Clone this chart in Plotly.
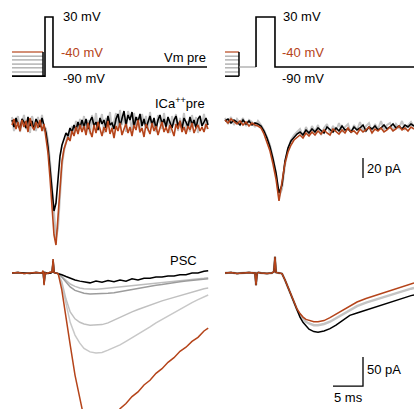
import numpy as np
import plotly.graph_objects as go

# ---------------- geometry of the figure (pixels) ----------------
W, H = 414, 409
COLS = {"L": (0, 214, 12), "R": (214, 414, 225)}   # px start, px end, px of t=0
PX_PER_MS = 6.0
ROWS = {  # py_top, py_bottom, py_of_zero, value_at_zero, px_per_unit
    "V": (0, 95, 67, -90.0, 50 / 120),
    "CA": (95, 253, 123, 0.0, 1.0),
    "PSC": (253, 409, 273, 0.0, 0.58),
}

ORANGE = "#b5441a"
FONT = "Liberation Sans, Arial, sans-serif"

# ---------------- data ----------------
# schematic voltage protocol (mV-like display units)
V_STEP_LEVELS = [-54, -64, -73, -83, -92, -102, -112]   # orange ... black
V_STEP_COLORS = [ORANGE, "#a0a0a0", "#a0a0a0", "#a0a0a0", "#a0a0a0", "#a0a0a0", "black"]
V_PULSE = 30
V_HOLD = -90
V_L_STEP_END, V_L_PULSE_ON, V_L_PULSE_OFF, V_L_END = 5.17, 5.5, 6.83, 32.5
V_R_STEP_END, V_R_PULSE_ON, V_R_PULSE_OFF, V_R_END = 2.33, 5.17, 8.33, 31.5

# presynaptic Ca current, left (pA), sampled every 1/3 ms
CA_L_DT = 1 / 3
CA_L_GRAY = [6, -8, 2, 7, -9, -1, 8, -6, 3, -10, 7, 0, -8, 6, -4, 8, -7,
             -6, -18, -38, -62, -95, -115, -105, -70, -42, -28, -18, -10, -15, -3, -11, 2, -8, 4, -6,
             7, -9, 3, -11, 8, -4, 10, -7, 2, 9, -10, 5, -3, 11, -8, 1, 10, -6, 13, -2, 8, -9, 12, 4,
             -7, 10, -3, 6, -10, 9, -1, 7, -8, 11, -4, 3, -9, 8, 0, -6, 10, -5, 4, -10, 7, -2, 9, -8,
             5, -4, 10, -7, 2, -9, 8, -3, 6, -10, 4, -1, 9, -6, 3]
CA_L_BLACK = [3, -4, 5, -2, -6, 4, 1, -5, 6, -3, 2, -7, 4, 0, -4, 5, -2,
              -10, -24, -45, -68, -88, -80, -52, -33, -22, -16, -10, -13, -5, -9, -2, -7, 1, -5, 3,
              -4, 4, -6, 2, 6, -3, 1, -7, 5, -1, 3, -5, 7, -2, 0, -6, 4, 9, -3, 5, 12, -2, 8, 3,
              11, -4, 6, 1, 9, -3, 4, -5, 2, 7, -2, 5, -6, 3, 8, -1, 4, -4, 6, 0, -5, 3, 7, -3,
              2, -6, 5, 1, -4, 6, -2, 3, -5, 4, 7, -3, 1, 5, -2]
CA_L_ORANGE = [-2, 4, -6, 1, -8, 3, -4, 2, -9, 5, -3, -7, 1, -5, 3, -8, -1,
               -14, -30, -55, -85, -112, -122, -95, -60, -38, -26, -20, -14, -18, -8, -13, -4, -11, -2, -9,
               -3, -12, 0, -8, -14, -2, -10, 1, -7, -13, -4, -9, 2, -11, -5, -15, -3, -8, 0, -12, -6, -1,
               -10, -4, -13, -2, -7, 3, -9, -5, -14, -1, -6, -11, 0, -8, -3, -12, -5, 1, -9, -4, -10,
               -2, -7, -13, -1, -6, 2, -9, -4, -11, -3, -7, 0, -10, -5, -2, -8, -4, -9, -1, -6]

# presynaptic Ca current, right (pA), sampled every 0.5 ms
CA_R_DT = 0.5
CA_R_GRAY = [5, -1, 6, -2, 4, 0, 5, -3, 3, 1, -4, 2,
             -2, -7, -14, -22, -35, -50, -74, -66, -42, -26, -17, -12, -9,
             -6, -13, -4, -11, -3, -9, -2, -12, -5, -1, -10, -3, -8, 0, -9, -4, -1, -10, -2, -7,
             1, -8, -3, 0, -9, -1, -6, 2, -7, -2, 0, -8, -1, -5, 2, -6, -3, 1, -4]
CA_R_BLACK = [2, 4, 0, 3, 1, -2, 3, -1, 2, -2, 0, -1,
              -3, -8, -15, -24, -36, -50, -70, -62, -38, -25, -18, -14, -11,
              -9, -12, -7, -10, -6, -9, -5, -8, -10, -4, -7, -9, -5, -8, -3, -7, -6, -9, -4, -7,
              -5, -2, -8, -4, -6, -3, -7, -5, -2, -6, -4, -1, -5, -3, -6, -2, -4, -1, -3]
CA_R_ORANGE = [3, 0, 4, 1, -1, 2, -2, 1, -3, 0, -2, -3,
               -5, -11, -19, -28, -41, -56, -78, -58, -40, -29, -22, -17, -14,
               -12, -15, -10, -13, -9, -12, -8, -11, -7, -10, -12, -6, -9, -11, -7, -10, -5, -9, -8,
               -11, -6, -9, -7, -4, -10, -6, -8, -5, -9, -7, -4, -8, -6, -3, -7, -5, -8, -4, -6]

# postsynaptic currents, left (pA)
PSC_L_T = [0, 1, 2, 3, 4, 5, 5.2, 5.35, 5.5, 5.7, 6, 6.5, 6.7, 6.85, 7.0, 7.3, 7.7, 8.3, 9, 9.7,
           10.5, 11.3, 12, 13, 14, 15, 16, 17, 18, 19, 20, 21, 22, 23, 24, 25, 26, 27, 28, 29,
           30, 31, 32, 32.7]
_PRE_L = [0, 1, -1, 0, 1, 0, 3, -20, 1, -1, 0, 1, 2, 24, 1, 0, -1]
PSC_L_G1 = _PRE_L + [-6, -13, -19, -23, -26, -27, -28, -28, -27, -26, -25, -24, -23, -22, -20, -19,
                     -18, -17, -16, -15, -14, -13, -12, -11, -10, -9, -8]
PSC_L_G2 = _PRE_L + [-7, -16, -24, -30, -33, -35, -36, -36, -36, -35, -34, -32, -31, -29, -27, -25,
                     -23, -21, -20, -18, -17, -15, -14, -13, -12, -11, -10]
PSC_L_G3 = _PRE_L + [-15, -45, -67, -79, -85, -88, -90, -90, -89, -86, -81, -76, -72, -67, -63, -59,
                     -55, -51, -48, -45, -42, -38, -35, -32, -29, -27, -26]
PSC_L_G4 = _PRE_L + [-20, -55, -85, -107, -121, -130, -136, -138, -137, -133, -129, -124, -118, -112,
                     -106, -99, -93, -86, -80, -74, -69, -62, -56, -51, -46, -41, -38]
PSC_L_BLACK = [0, 1, 0, -1, 1, 0, 3, -18, 1, 0, -1, 0, 2, 20, 1, 0, -1,
               -3, -6, -9, -12, -14, -15, -17, -14, -16, -13, -15, -12, -14, -10, -12, -9, -9, -7, -7,
               -5, -5, -3, -3, 0, 0, 3, 4]
PSC_L_ORANGE = [0, 1, -1, 0, 1, 0, 4, -21, 1, -1, 0, 1, 2, 24, 1, 0, -1,
                -29, -81, -124, -176, -219, -250, -278, -290, -292, -285, -262, -234, -225, -213, -205,
                -193, -185, -173, -165, -154, -146, -135, -128, -118, -111, -100, -95]

# postsynaptic currents, right (pA)
PSC_R_T = [0, 1, 2, 3, 4, 4.8, 5.0, 5.17, 5.35, 5.6, 6, 7, 7.8, 8.15, 8.33, 8.5, 8.8, 9.5, 10, 10.5,
           11, 11.5, 12, 12.5, 13, 13.5, 14, 14.8, 15.5, 16.5, 17.5, 18.5, 19.5, 20.8, 22, 23.5,
           25, 26.5, 28, 29.5, 31, 31.5]
_PRE_R = [0, 1, -1, 0, 1, 0, 0, -21, 0, 1, 0, -1, 0, 2, 28, 1, 0, -1]
PSC_R_GRAY = _PRE_R + [-12, -25, -38, -51, -63, -72, -79, -84, -87, -90, -90, -88, -84, -78, -71, -63,
                       -57, -51, -46, -41, -36, -31, -27, -26]
PSC_R_BLACK = _PRE_R + [-12, -25, -39, -52, -65, -76, -85, -92, -97, -101, -102, -100, -96, -90, -82,
                        -73, -69, -64, -59, -53, -48, -44, -39, -38]
PSC_R_ORANGE = _PRE_R + [-12, -25, -38, -50, -62, -70, -76, -80, -82, -84, -84, -82, -77, -71, -64,
                         -56, -50, -44, -39, -33, -28, -23, -18, -17]

# scale bars
SCALE_MS = 5
SCALE_PSC_PA = 50
SCALE_CA_PA = 20
SCALE_X_R = 23.0          # ms position (right column) of vertical bars
SCALE_CA_TOP = -35.0
SCALE_PSC_TOP = -145.0

# ---------------- build figure ----------------
fig = go.Figure()
layout = {}
panel_ids = {("V", "L"): 1, ("V", "R"): 2, ("CA", "L"): 3, ("CA", "R"): 4, ("PSC", "L"): 5, ("PSC", "R"): 6}
for (row, col), k in panel_ids.items():
    px0, px1, pxt0 = COLS[col]
    pyt, pyb, pyz, vz, ppu = ROWS[row]
    sfx = "" if k == 1 else str(k)
    layout["xaxis" + sfx] = dict(domain=[px0 / W, px1 / W],
                                 range=[(px0 - pxt0) / PX_PER_MS, (px1 - pxt0) / PX_PER_MS],
                                 visible=False, anchor="y" + sfx, fixedrange=True)
    layout["yaxis" + sfx] = dict(domain=[1 - pyb / H, 1 - pyt / H],
                                 range=[vz + (pyz - pyb) / ppu, vz + (pyz - pyt) / ppu],
                                 visible=False, anchor="x" + sfx, fixedrange=True)


def ax(row, col):
    k = panel_ids[(row, col)]
    s = "" if k == 1 else str(k)
    return dict(xaxis="x" + s, yaxis="y" + s)


def line(x, y, color, width, row, col):
    fig.add_trace(go.Scatter(x=x, y=y, mode="lines", line=dict(color=color, width=width),
                             hoverinfo="skip", showlegend=False, **ax(row, col)))


# voltage protocol, left
for lvl, c in zip(V_STEP_LEVELS[:-1][::-1], V_STEP_COLORS[:-1][::-1]):
    line([0, V_L_STEP_END], [lvl, lvl], c, 1.2, "V", "L")
line([V_L_STEP_END, V_L_STEP_END], [V_STEP_LEVELS[0], V_STEP_LEVELS[-1]], "black", 1.5, "V", "L")
line([0, V_L_PULSE_ON, V_L_PULSE_ON, V_L_PULSE_OFF, V_L_PULSE_OFF, V_L_END],
     [V_STEP_LEVELS[-1], V_STEP_LEVELS[-1], V_PULSE, V_PULSE, V_HOLD, V_HOLD], "black", 1.6, "V", "L")

# voltage protocol, right
for lvl, c in zip(V_STEP_LEVELS[:-1][::-1], V_STEP_COLORS[:-1][::-1]):
    line([0, V_R_STEP_END], [lvl, lvl], c, 1.2, "V", "R")
line([V_R_STEP_END, V_R_STEP_END], [V_STEP_LEVELS[0], V_STEP_LEVELS[-1]], "black", 1.5, "V", "R")
line([0, V_R_STEP_END], [V_STEP_LEVELS[-1], V_STEP_LEVELS[-1]], "black", 1.5, "V", "R")
line([V_R_STEP_END, V_R_PULSE_ON], [V_HOLD, V_HOLD], "#a0a0a0", 1.2, "V", "R")
line([V_R_PULSE_ON, V_R_PULSE_ON, V_R_PULSE_OFF, V_R_PULSE_OFF, V_R_END],
     [V_HOLD, V_PULSE, V_PULSE, V_HOLD, V_HOLD], "black", 1.6, "V", "R")

# Ca currents
line(np.arange(len(CA_L_GRAY)) * CA_L_DT, CA_L_GRAY, "#c4c4c4", 2.0, "CA", "L")
line(np.arange(len(CA_L_BLACK)) * CA_L_DT, CA_L_BLACK, "black", 1.6, "CA", "L")
line(np.arange(len(CA_L_ORANGE)) * CA_L_DT, CA_L_ORANGE, ORANGE, 1.6, "CA", "L")
line(np.arange(len(CA_R_GRAY)) * CA_R_DT, CA_R_GRAY, "#c4c4c4", 2.0, "CA", "R")
line(np.arange(len(CA_R_BLACK)) * CA_R_DT, CA_R_BLACK, "black", 1.6, "CA", "R")
line(np.arange(len(CA_R_ORANGE)) * CA_R_DT, CA_R_ORANGE, ORANGE, 1.6, "CA", "R")

# PSCs
line(PSC_L_T, PSC_L_G4, "#c8c8c8", 1.5, "PSC", "L")
line(PSC_L_T, PSC_L_G3, "#c0c0c0", 1.5, "PSC", "L")
line(PSC_L_T, PSC_L_G1, "#bdbdbd", 1.5, "PSC", "L")
line(PSC_L_T, PSC_L_G2, "#9c9c9c", 1.5, "PSC", "L")
line(PSC_L_T, PSC_L_BLACK, "black", 1.5, "PSC", "L")
line(PSC_L_T, PSC_L_ORANGE, ORANGE, 1.5, "PSC", "L")
line(PSC_R_T, PSC_R_GRAY, "#c4c4c4", 2.5, "PSC", "R")
line(PSC_R_T, PSC_R_BLACK, "black", 1.5, "PSC", "R")
line(PSC_R_T, PSC_R_ORANGE, ORANGE, 1.5, "PSC", "R")

# scale bars
line([SCALE_X_R, SCALE_X_R], [SCALE_CA_TOP, SCALE_CA_TOP - SCALE_CA_PA], "black", 1.3, "CA", "R")
line([SCALE_X_R, SCALE_X_R, SCALE_X_R - SCALE_MS],
     [SCALE_PSC_TOP, SCALE_PSC_TOP - SCALE_PSC_PA, SCALE_PSC_TOP - SCALE_PSC_PA], "black", 1.3, "PSC", "R")


# text
def text(s, x, y, row, col, anchor="left", color="black", size=13):
    k = panel_ids[(row, col)]
    sfx = "" if k == 1 else str(k)
    fig.add_annotation(text=s, x=x, y=y, xref="x" + sfx, yref="y" + sfx, showarrow=False,
                       xanchor=anchor, yanchor="middle", font=dict(family=FONT, size=size, color=color))


text("30 mV", 8.2, 31, "V", "L")
text("-40 mV", 7.9, -54, "V", "L", color=ORANGE)
text("-90 mV", 8.2, -118, "V", "L")
text("Vm pre", 32.6, -66, "V", "L", anchor="right")
text("30 mV", 9.4, 31, "V", "R")
text("-40 mV", 9.2, -54, "V", "R", color=ORANGE)
text("-90 mV", 9.2, -118, "V", "R")
text("ICa<sup>++</sup>pre", 32.5, 20, "CA", "L", anchor="right")
text("20 pA", SCALE_X_R + 0.4, SCALE_CA_TOP - SCALE_CA_PA / 2, "CA", "R")
text("PSC", 31.2, 22, "PSC", "L", anchor="right")
text("50 pA", SCALE_X_R + 0.4, SCALE_PSC_TOP - SCALE_PSC_PA / 2 + 3, "PSC", "R")
text("5 ms", SCALE_X_R - SCALE_MS / 2, SCALE_PSC_TOP - SCALE_PSC_PA - 19, "PSC", "R", anchor="center")

fig.update_layout(width=W, height=H, margin=dict(l=0, r=0, t=0, b=0),
                  paper_bgcolor="white", plot_bgcolor="rgba(0,0,0,0)", **layout)
fig.write_html("out.html", config={"displayModeBar": False},
               post_script="document.body.style.margin='0';document.body.style.overflow='hidden';")
